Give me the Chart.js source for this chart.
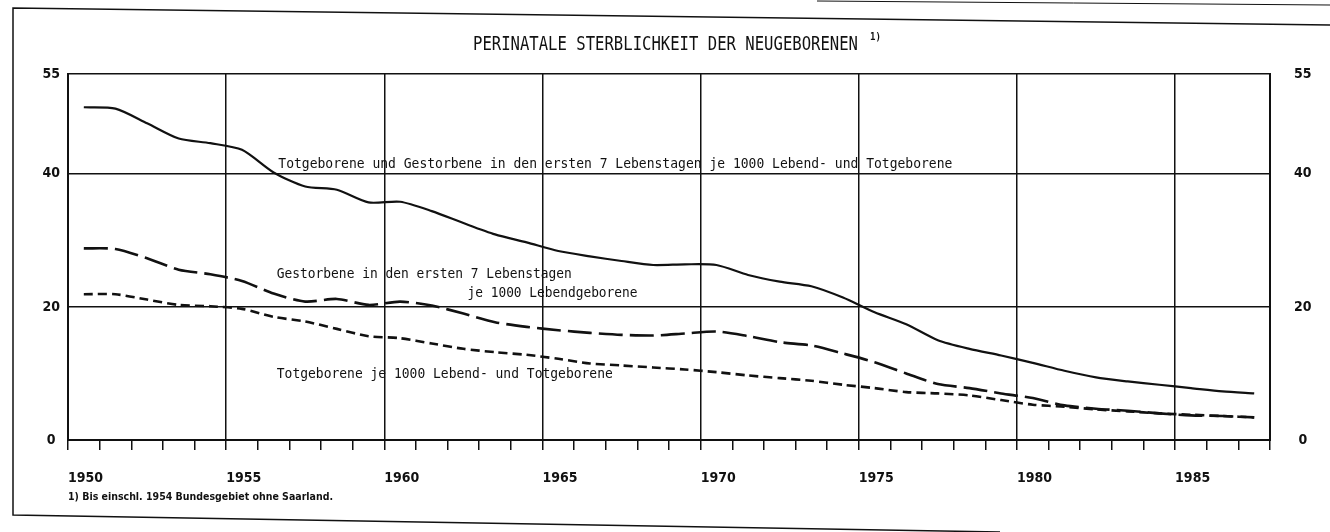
<!DOCTYPE html>
<html>
<head>
<meta charset="utf-8">
<script src="https://cdn.jsdelivr.net/npm/chart.js@4.4.0/dist/chart.umd.min.js"></script>
<style>
  body { margin: 0; background: #fff; }
  #wrap { width: 1330px; height: 532px; }
</style>
</head>
<body>
<div id="wrap"><canvas id="perinatalChart" width="1330" height="532"></canvas></div>
<script>
// Jahre (Berichtsjahr)
const years = [1950, 1951, 1952, 1953, 1954, 1955, 1956, 1957, 1958, 1959,
  1960, 1961, 1962, 1963, 1964, 1965, 1966, 1967, 1968, 1969,
  1970, 1971, 1972, 1973, 1974, 1975, 1976, 1977, 1978, 1979,
  1980, 1981, 1982, 1983, 1984, 1985, 1986, 1987];

// Totgeborene und Gestorbene in den ersten 7 Lebenstagen je 1000 Lebend- und Totgeborene
const perinatal = [50.0, 49.8, 47.6, 45.3, 44.6, 43.6, 40.2, 38.1, 37.6, 35.7,
  35.8, 34.4, 32.6, 30.9, 29.7, 28.4, 27.6, 26.9, 26.3, 26.4,
  26.3, 24.8, 23.8, 23.1, 21.4, 19.2, 17.4, 15.0, 13.7, 12.7,
  11.6, 10.4, 9.4, 8.8, 8.3, 7.8, 7.3, 7.0];

// Gestorbene in den ersten 7 Lebenstagen je 1000 Lebendgeborene
const earlyDeaths = [28.8, 28.7, 27.3, 25.6, 24.9, 23.9, 22.0, 20.8, 21.2, 20.3,
  20.8, 20.2, 19.0, 17.7, 17.0, 16.5, 16.1, 15.8, 15.7, 16.0,
  16.3, 15.6, 14.7, 14.2, 13.0, 11.7, 10.0, 8.4, 7.8, 7.0,
  6.3, 5.2, 4.7, 4.4, 4.0, 3.7, 3.6, 3.4];

// Totgeborene je 1000 Lebend- und Totgeborene
const stillbirths = [21.9, 21.9, 21.1, 20.3, 20.1, 19.7, 18.5, 17.8, 16.7, 15.6,
  15.3, 14.5, 13.7, 13.2, 12.8, 12.2, 11.5, 11.2, 10.9, 10.6,
  10.2, 9.7, 9.3, 8.9, 8.3, 7.8, 7.2, 7.0, 6.7, 6.0,
  5.3, 5.0, 4.6, 4.3, 4.0, 3.8, 3.6, 3.4];

const yTicks = [0, 20, 40, 55];
const xMin = 1950, xMax = 1988;

const titleText = 'PERINATALE STERBLICHKEIT DER NEUGEBORENEN';
const footnoteText = '1) Bis einschl. 1954 Bundesgebiet ohne Saarland.';
const labelPerinatal = 'Totgeborene und Gestorbene in den ersten 7 Lebenstagen je 1000 Lebend- und Totgeborene';
const labelEarly1 = 'Gestorbene in den ersten 7 Lebenstagen';
const labelEarly2 = 'je 1000 Lebendgeborene';
const labelStill = 'Totgeborene je 1000 Lebend- und Totgeborene';

const INK = '#111';
const MONO = "'DejaVu Sans Mono', monospace";
const TICKFONT = "'DejaVu Sans Condensed', 'Liberation Sans Narrow', 'DejaVu Sans', sans-serif";

// jedes Jahr in der Mitte des Jahresintervalls
function toPoints(vals) {
  return vals.map((v, i) => ({ x: years[i] + 0.5, y: v }));
}

function fitText(ctx, text, x, y, width, font) {
  ctx.save();
  ctx.font = font;
  const w = ctx.measureText(text).width;
  ctx.translate(x, y);
  ctx.scale(width / w, 1);
  ctx.textAlign = 'left';
  ctx.textBaseline = 'middle';
  ctx.fillStyle = INK;
  ctx.fillText(text, 0, 0);
  ctx.restore();
}

const paperPlugin = {
  id: 'paper',
  beforeDraw(chart) {
    const ctx = chart.ctx;
    ctx.save();
    ctx.fillStyle = '#fff';
    ctx.fillRect(0, 0, chart.width, chart.height);
    // Rahmen (leicht schief gescannt)
    ctx.strokeStyle = INK;
    ctx.lineWidth = 1.5;
    ctx.beginPath();
    ctx.moveTo(1330, 25); ctx.lineTo(13, 8); ctx.lineTo(13, 515); ctx.lineTo(1000, 532);
    ctx.stroke();
    ctx.lineWidth = 1;
    ctx.beginPath();
    ctx.moveTo(817, 1); ctx.lineTo(1330, 5);
    ctx.stroke();
    ctx.restore();
  },
  afterDatasetsDraw(chart) {
    const ctx = chart.ctx;
    const x = chart.scales.x, y = chart.scales.y;
    fitText(ctx, labelPerinatal, x.getPixelForValue(1956.65), y.getPixelForValue(41.4), 674, '14px ' + MONO);
    fitText(ctx, labelEarly1, x.getPixelForValue(1956.6), y.getPixelForValue(24.9), 295, '14px ' + MONO);
    fitText(ctx, labelEarly2, x.getPixelForValue(1962.63), y.getPixelForValue(22.0), 170, '14px ' + MONO);
    fitText(ctx, labelStill, x.getPixelForValue(1956.6), y.getPixelForValue(9.8), 336, '14px ' + MONO);

    // Titel
    fitText(ctx, titleText, 473, 45, 385, '19px ' + MONO);
    fitText(ctx, '1)', 870, 37, 11, 'bold 11px ' + MONO);
    // Fussnote
    fitText(ctx, footnoteText, 68, 497, 265, "bold 10px 'DejaVu Sans', sans-serif");
  }
};

const ctx = document.getElementById('perinatalChart').getContext('2d');

new Chart(ctx, {
  type: 'line',
  data: {
    datasets: [{
      label: labelPerinatal,
      data: toPoints(perinatal),
      borderColor: INK,
      borderWidth: 2.2,
      pointRadius: 0,
      tension: 0.25,
      fill: false
    }, {
      label: labelEarly1 + ' ' + labelEarly2,
      data: toPoints(earlyDeaths),
      borderColor: INK,
      borderWidth: 2.6,
      borderDash: [24, 7],
      pointRadius: 0,
      tension: 0.25,
      fill: false
    }, {
      label: labelStill,
      data: toPoints(stillbirths),
      borderColor: INK,
      borderWidth: 2.6,
      borderDash: [9, 5],
      pointRadius: 0,
      tension: 0.25,
      fill: false
    }]
  },
  options: {
    responsive: false,
    animation: false,
    maintainAspectRatio: false,
    layout: { padding: { top: 74, left: 0, right: 0, bottom: 0 } },
    plugins: {
      legend: { display: false },
      tooltip: { enabled: false },
      title: { display: false }
    },
    scales: {
      x: {
        type: 'linear',
        min: xMin,
        max: xMax,
        afterFit: s => { s.height = 92; },
        border: { display: true, color: INK, width: 2 },
        grid: {
          color: c => (c.tick && c.tick.value % 5 === 0) ? INK : 'rgba(0,0,0,0)',
          tickColor: INK,
          lineWidth: 1.5,
          drawTicks: true,
          tickLength: 10
        },
        ticks: {
          stepSize: 1,
          autoSkip: false,
          maxRotation: 0,
          align: 'start',
          padding: 20,
          color: INK,
          font: { family: TICKFONT, size: 14, weight: 'bold' },
          callback: v => (v % 5 === 0 && v < xMax) ? String(v) : ''
        }
      },
      y: {
        position: 'left',
        min: 0,
        max: 55,
        afterFit: s => { s.width = 68; },
        afterBuildTicks: s => { s.ticks = yTicks.map(v => ({ value: v })); },
        border: { display: true, color: INK, width: 2 },
        grid: { color: INK, lineWidth: 1.5, drawTicks: false },
        ticks: {
          crossAlign: 'center',
          padding: 8,
          color: INK,
          font: { family: TICKFONT, size: 14, weight: 'bold' }
        }
      },
      y2: {
        position: 'right',
        min: 0,
        max: 55,
        afterFit: s => { s.width = 60; },
        afterBuildTicks: s => { s.ticks = yTicks.map(v => ({ value: v })); },
        border: { display: true, color: INK, width: 2 },
        grid: { drawOnChartArea: false, drawTicks: false },
        ticks: {
          crossAlign: 'center',
          padding: 24,
          color: INK,
          font: { family: TICKFONT, size: 14, weight: 'bold' }
        }
      }
    }
  },
  plugins: [paperPlugin]
});
</script>
</body>
</html>
